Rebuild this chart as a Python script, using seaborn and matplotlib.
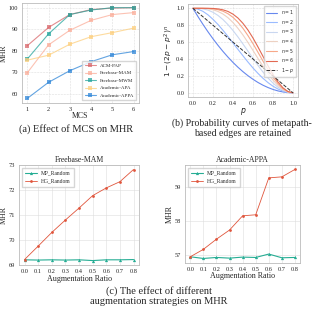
import numpy as np
import pandas as pd
import matplotlib
matplotlib.use("Agg")
import matplotlib.pyplot as plt
import seaborn as sns

# (a) effect of MCS on MHR
mcs = [1, 2, 3, 4, 5, 6]
acm_pap = [82.3, 90.8, 96.8, 99.1, 99.8, 100.0]
freebase_mam = [69.7, 82.7, 89.5, 94.1, 96.8, 97.7]
freebase_mwm = [76.1, 87.8, 96.8, 98.9, 100.0, 100.0]
academic_apa = [75.6, 77.9, 83.0, 86.5, 88.4, 90.5]
academic_appa = [57.8, 65.3, 70.7, 74.9, 78.1, 79.6]

# (b) retained probability curves
p_vals = [0.0, 0.05, 0.1, 0.15, 0.2, 0.25, 0.3, 0.35, 0.4, 0.45, 0.5,
          0.55, 0.6, 0.65, 0.7, 0.75, 0.8, 0.85, 0.9, 0.95, 1.0]
n1 = [1, .9025, .81, .7225, .64, .5625, .49, .4225, .36, .3025, .25,
      .2025, .16, .1225, .09, .0625, .04, .0225, .01, .0025, 0]
n2 = [1, .990, .964, .923, .870, .809, .740, .667, .590, .514, .438,
      .364, .294, .230, .172, .121, .078, .045, .020, .005, 0]
n3 = [1, .999, .993, .979, .953, .916, .867, .807, .738, .661, .578,
      .493, .407, .324, .246, .176, .115, .066, .030, .008, 0]
n4 = [1, 1.0, .999, .994, .983, .963, .932, .889, .832, .763, .684,
      .596, .502, .407, .314, .228, .151, .087, .039, .010, 0]
n5 = [1, 1.0, 1.0, .998, .994, .984, .966, .936, .893, .835, .763,
      .677, .582, .480, .376, .276, .185, .108, .049, .012, 0]
n6 = [1, 1.0, 1.0, 1.0, .998, .993, .982, .963, .931, .885, .822,
      .743, .649, .543, .432, .321, .217, .128, .059, .015, 0]
baseline_p = [0.0, 1.0]
baseline_y = [1.0, 0.0]

# (c) augmentation strategies
aug_ratio = [0.0, 0.1, 0.2, 0.3, 0.4, 0.5, 0.6, 0.7, 0.8]
mam_mp = [69.20, 69.19, 69.20, 69.19, 69.20, 69.17, 69.20, 69.20, 69.21]
mam_hg = [69.21, 69.75, 70.30, 70.80, 71.28, 71.78, 72.09, 72.34, 72.83]
appa_mp = [56.95, 56.90, 56.93, 56.91, 56.94, 56.93, 57.03, 56.92, 56.93]
appa_hg = [56.95, 57.17, 57.47, 57.74, 58.16, 58.19, 59.28, 59.31, 59.53]

sns.set_theme(style="whitegrid")
plt.rcParams['font.family'] = ['Liberation Serif', 'DejaVu Serif']
plt.rcParams['mathtext.fontset'] = 'dejavusans'

fig = plt.figure(figsize=(3.18, 3.13), dpi=100)

def style_ax(ax, ls="--"):
    ax.grid(True, linestyle=ls, linewidth=0.4, color="#dddddd")
    for s in ax.spines.values():
        s.set_color("#bbbbbb")
        s.set_linewidth(0.6)
    ax.tick_params(labelsize=4.6, pad=1.2, length=1.5, width=0.4, color="#888888")

# panel a
ax1 = fig.add_axes([0.069, 0.671, 0.368, 0.319])
series_a = [("ACM-PAP", acm_pap, "#d9666a"),
            ("Freebase-MAM", freebase_mam, "#fbae9a"),
            ("Freebase-MWM", freebase_mwm, "#27a59d"),
            ("Academic-APA", academic_apa, "#fdcf7e"),
            ("Academic-APPA", academic_appa, "#2f86d8")]
for name, vals, col in series_a:
    sns.lineplot(x=mcs, y=vals, ax=ax1, color=col, marker="s", markersize=2.5,
                 markeredgewidth=0, linewidth=0.8, alpha=0.75, label=name)
ax1.set_xticks(mcs)
ax1.set_yticks([60, 70, 80, 90, 100])
ax1.set_xlabel("MCS", fontsize=5.6, labelpad=0.5)
ax1.set_ylabel("MHR", fontsize=5.6, labelpad=0.5)
style_ax(ax1)
ax1.legend(loc="lower right", fontsize=3.6, frameon=True, handlelength=2.2,
           borderpad=0.5, labelspacing=0.6, edgecolor="#cccccc", fancybox=False)

# panel b
ax2 = fig.add_axes([0.591, 0.690, 0.346, 0.297])
pal = sns.color_palette("coolwarm", 6)
for i, ys in enumerate([n1, n2, n3, n4, n5, n6]):
    sns.lineplot(x=p_vals, y=ys, ax=ax2, color=pal[i], linewidth=0.8,
                 label=f"$n={i + 1}$")
sns.lineplot(x=baseline_p, y=baseline_y, ax=ax2, color="#333333", linewidth=0.7,
             linestyle="--", label="$1-p$")
ax2.set_xticks([0.0, 0.2, 0.4, 0.6, 0.8, 1.0])
ax2.set_yticks([0.0, 0.2, 0.4, 0.6, 0.8, 1.0])
ax2.set_xlabel("$p$", fontsize=5.6, labelpad=0)
ax2.set_ylabel("$1-(2p-p^2)^n$", fontsize=5.4, labelpad=1)
style_ax(ax2)
ax2.legend(loc="upper right", fontsize=3.3, frameon=True, handlelength=2.4,
           borderpad=0.4, labelspacing=0.35, edgecolor="#cccccc", fancybox=False)

# panel c
def aug_panel(rect, title, mp, hg, yticks):
    ax = fig.add_axes(rect)
    sns.lineplot(x=aug_ratio, y=mp, ax=ax, color="#26ad94", marker="^",
                 markersize=2.3, markeredgewidth=0, linewidth=0.8, label="MP_Random")
    sns.lineplot(x=aug_ratio, y=hg, ax=ax, color="#e0553c", marker="o",
                 markersize=2.0, markeredgewidth=0, linewidth=0.6, label="HG_Random")
    ax.set_xticks(aug_ratio)
    ax.set_yticks(yticks)
    ax.set_title(title, fontsize=5.6, pad=2)
    ax.set_xlabel("Augmentation Ratio", fontsize=5.8, labelpad=0.5)
    ax.set_ylabel("MHR", fontsize=5.8, labelpad=0.5)
    style_ax(ax, ls="-")
    ax.legend(loc="upper left", fontsize=4.0, frameon=True, handlelength=2.2,
              borderpad=0.5, labelspacing=0.6, edgecolor="#cccccc", fancybox=False)
    return ax

aug_panel([0.060, 0.153, 0.377, 0.32], "Freebase-MAM", mam_mp, mam_hg,
          [69, 70, 71, 72, 73])
aug_panel([0.582, 0.160, 0.362, 0.313], "Academic-APPA", appa_mp, appa_hg,
          [57, 58, 59])

fig.text(0.24, 0.588, "(a) Effect of MCS on MHR", ha="center", va="center", fontsize=7.5)
fig.text(0.762, 0.590, "(b) Probability curves of metapath-\nbased edges are retained",
         ha="center", va="center", fontsize=7.1, linespacing=1.1)
fig.text(0.5, 0.054, "(c) The effect of different\naugmentation strategies on MHR",
         ha="center", va="center", fontsize=7.5, linespacing=1.15)

fig.savefig("out.png", dpi=100)
